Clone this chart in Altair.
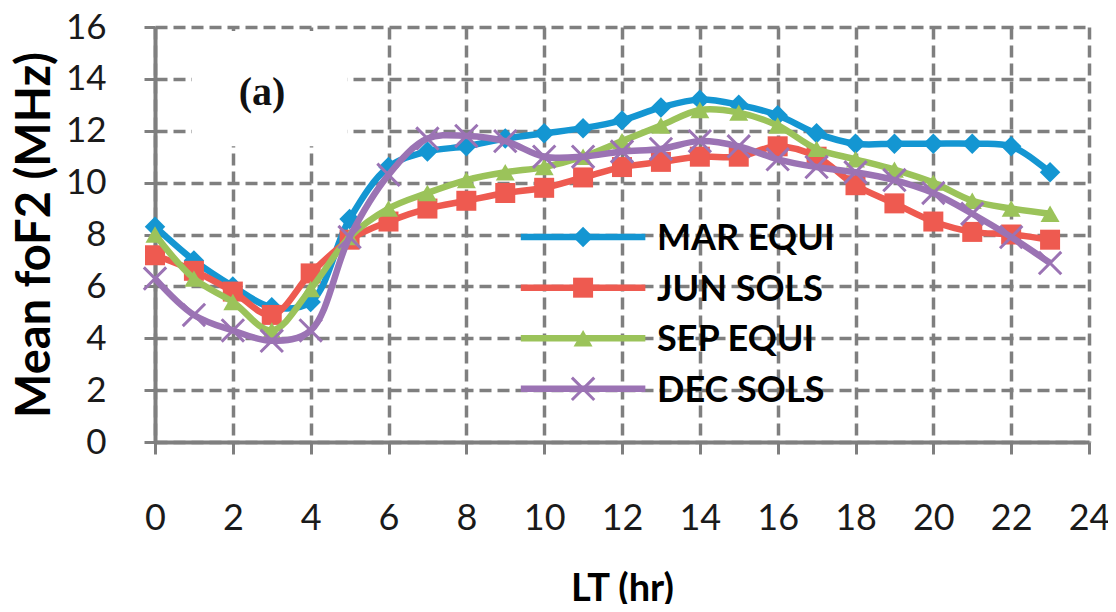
import altair as alt
import pandas as pd

# ---------------- data ----------------
hours = list(range(24))
series_names = ["MAR EQUI", "JUN SOLS", "SEP EQUI", "DEC SOLS"]
series_colors = ["#1496D2", "#EE5A50", "#9BC35A", "#9B73B4"]

mar_equi = [8.3, 7.0, 6.0, 5.2, 5.4, 8.6, 10.6, 11.2, 11.4, 11.7, 11.9, 12.1,
            12.4, 12.9, 13.2, 13.0, 12.6, 11.9, 11.5, 11.5, 11.5, 11.5, 11.4, 10.4]
jun_sols = [7.2, 6.6, 5.8, 4.9, 6.5, 7.8, 8.5, 9.0, 9.3, 9.6, 9.8, 10.2,
            10.6, 10.8, 11.0, 11.0, 11.4, 11.0, 9.9, 9.2, 8.5, 8.1, 8.0, 7.8]
sep_equi = [8.0, 6.3, 5.4, 4.3, 5.9, 7.9, 9.0, 9.6, 10.1, 10.4, 10.6, 11.0,
            11.6, 12.2, 12.8, 12.7, 12.2, 11.3, 10.9, 10.5, 10.0, 9.3, 9.0, 8.8]
dec_sols = [6.3, 4.9, 4.3, 3.9, 4.3, 7.9, 10.3, 11.7, 11.8, 11.6, 11.0, 11.0,
            11.2, 11.3, 11.6, 11.4, 10.9, 10.6, 10.4, 10.1, 9.6, 8.8, 7.9, 6.9]
series_values = [mar_equi, jun_sols, sep_equi, dec_sols]

x_ticks = list(range(0, 25))
y_ticks = list(range(0, 17))

panel_label = "(a)"

# legend rows (in data units, inside the plot like the original)
legend_rows_y = [7.9, 5.95, 4.0, 2.05]

# ---------------- build tables ----------------
rows = []
for name, vals in zip(series_names, series_values):
    for h, v in zip(hours, vals):
        rows.append({"LT": h, "foF2": v, "series": name})
df = pd.DataFrame(rows)

legend_df = pd.DataFrame({
    "series": series_names,
    "ly": legend_rows_y,
    "lx1": [9.4] * 4,
    "lx2": [12.6] * 4,
    "lxm": [11.0] * 4,
    "lxt": [12.9] * 4,
})

FONT = "Lato"
GRID = "#7f7f7f"
even = "datum.value % 2 === 0"

x_scale = alt.Scale(domain=[0, 24], nice=False, zero=False)
y_scale = alt.Scale(domain=[0, 16], nice=False)
color_scale = alt.Scale(domain=series_names, range=series_colors)

x_axis = alt.Axis(
    values=x_ticks,
    labelExpr=f"{even} ? datum.label : ''",
    title="LT (hr)",
    grid=True,
    gridOpacity={"condition": {"test": even, "value": 1}, "value": 0},
    gridDash=[12, 6], gridColor=GRID, gridWidth=3.5,
    domainColor=GRID, domainWidth=4,
    tickColor=GRID, tickWidth=3,
    tickSize={"condition": {"test": even, "value": 12}, "value": 7},
    labelFont=FONT, labelFontSize=36, labelColor="#1a1a1a",
    labelPadding=47, labelFlush=False, labelOverlap=False,
    titleFont=FONT, titleFontSize=38, titleFontWeight="bold", titleColor="#000",
    titlePadding=34,
)
y_axis = alt.Axis(
    values=y_ticks,
    labelExpr=f"{even} ? datum.label : ''",
    title="Mean foF2 (MHz)",
    grid=True,
    gridOpacity={"condition": {"test": even, "value": 1}, "value": 0},
    gridDash=[12, 6], gridColor=GRID, gridWidth=3.5,
    domainColor=GRID, domainWidth=4,
    tickColor=GRID, tickWidth=3,
    tickSize={"condition": {"test": even, "value": 11}, "value": 6},
    labelFont=FONT, labelFontSize=35, labelColor="#1a1a1a",
    labelPadding=38, labelFlush=False, labelOverlap=False,
    titleFont=FONT, titleFontSize=47, titleFontWeight="bold", titleColor="#000",
    titlePadding=6,
)

base = alt.Chart(df)

# white box behind the panel label (as in the original, it hides the grid)
label_box = alt.Chart(pd.DataFrame({"x1": [0.95], "x2": [4.95], "y1": [11.4], "y2": [15.85]})).mark_rect(
    fill="white"
).encode(
    x=alt.X("x1:Q", scale=x_scale, axis=x_axis),
    x2="x2:Q",
    y=alt.Y("y1:Q", scale=y_scale, axis=y_axis),
    y2="y2:Q",
)

label_text = alt.Chart(pd.DataFrame({"x": [2.75], "y": [13.45], "t": [panel_label]})).mark_text(
    font="Liberation Serif", fontSize=40, fontWeight="bold", color="#111"
).encode(x=alt.X("x:Q", scale=x_scale), y=alt.Y("y:Q", scale=y_scale), text="t:N")

marker_props = [
    dict(shape="diamond", filled=True, size=420),
    dict(shape="square", filled=True, size=400),
    dict(shape="triangle-up", filled=True, size=360),
    dict(shape="M-1,-1L1,1M-1,1L1,-1", filled=False, size=500, strokeWidth=3),
]

layers = [label_box, label_text]
for name, mp in zip(series_names, marker_props):
    sub = base.transform_filter(alt.datum.series == name)
    line = sub.mark_line(strokeWidth=6.5, interpolate="catmull-rom").encode(
        x=alt.X("LT:Q", scale=x_scale),
        y=alt.Y("foF2:Q", scale=y_scale),
        color=alt.Color("series:N", scale=color_scale, legend=None),
    )
    pts = sub.mark_point(opacity=1, **mp).encode(
        x=alt.X("LT:Q", scale=x_scale),
        y=alt.Y("foF2:Q", scale=y_scale),
        color=alt.Color("series:N", scale=color_scale, legend=None),
    )
    layers += [line, pts]

    # legend entry
    lsub = alt.Chart(legend_df).transform_filter(alt.datum.series == name)
    lrule = lsub.mark_rule(strokeWidth=6.5).encode(
        x=alt.X("lx1:Q", scale=x_scale), x2="lx2:Q",
        y=alt.Y("ly:Q", scale=y_scale),
        color=alt.Color("series:N", scale=color_scale, legend=None),
    )
    lpt = lsub.mark_point(opacity=1, **mp).encode(
        x=alt.X("lxm:Q", scale=x_scale),
        y=alt.Y("ly:Q", scale=y_scale),
        color=alt.Color("series:N", scale=color_scale, legend=None),
    )
    ltxt = lsub.mark_text(
        align="left", baseline="middle", font=FONT, fontSize=36, fontWeight="bold", color="#000", dy=2
    ).encode(
        x=alt.X("lxt:Q", scale=x_scale),
        y=alt.Y("ly:Q", scale=y_scale),
        text="series:N",
    )
    layers += [lrule, lpt, ltxt]

chart = alt.layer(*layers).properties(
    width=934,
    height=415,
    autosize=alt.AutoSizeParams(type="none"),
    padding={"left": 147, "top": 19, "right": 19, "bottom": 162},
    background="white",
).configure_view(stroke=None)

chart.save("out.html", embed_options={"renderer": "svg", "actions": False})
